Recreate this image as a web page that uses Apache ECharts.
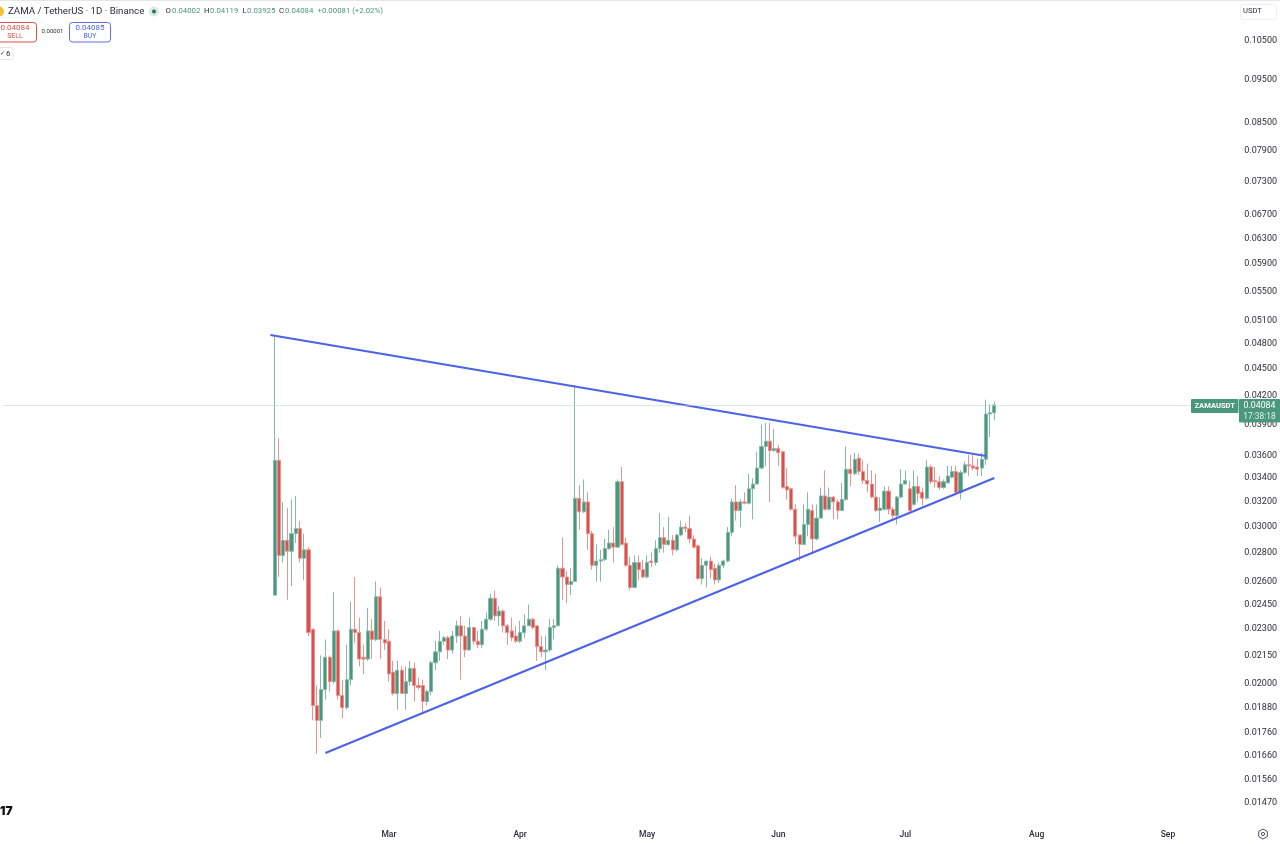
<!DOCTYPE html>
<html><head><meta charset="utf-8">
<style>html,body{margin:0;padding:0;background:#fff}#c{width:1280px;height:844px}</style>
<script src="https://cdn.jsdelivr.net/npm/echarts@6/dist/echarts.min.js"></script>
</head><body><div id="c"></div>
<script>
const opens=[.0250,.0354,.0277,.0288,.0280,.0293,.0297,.0275,.0281,.0229,.0188,.0181,.0196,.0213,.0200,.0228,.0193,.0187,.0201,.0229,.0227,.0213,.0212,.0228,.0223,.0249,.0223,.0222,.0205,.0194,.0206,.0194,.0200,.0207,.0198,.0198,.0190,.0195,.0210,.0216,.0222,.0224,.0217,.0225,.0231,.0225,.0217,.0230,.0222,.0220,.0229,.0235,.0248,.0237,.0240,.0231,.0228,.0225,.0222,.0227,.0231,.0235,.0231,.0219,.0216,.0217,.0230,.0231,.0268,.0262,.0257,.0259,.0321,.0310,.0318,.0293,.0270,.0273,.0274,.0282,.0286,.0283,.0335,.0286,.0270,.0255,.0272,.0267,.0262,.0273,.0272,.0282,.0290,.0285,.0288,.0281,.0292,.0298,.0297,.0289,.0284,.0261,.0270,.0273,.0268,.0260,.0270,.0273,.0294,.0318,.0311,.0318,.0317,.0329,.0333,.0347,.0367,.0372,.0363,.0365,.0362,.0331,.0329,.0312,.0292,.0285,.0300,.0311,.0289,.0305,.0323,.0312,.0322,.0318,.0311,.0320,.0346,.0342,.0356,.0344,.0336,.0333,.0322,.0311,.0312,.0327,.0312,.0307,.0322,.0333,.0329,.0316,.0331,.0326,.0321,.0348,.0336,.0335,.0330,.0334,.0339,.0344,.0326,.0343,.0350,.0349,.0348,.0347,.0355,.0399,.04002];
const closes=[.0354,.0277,.0288,.0280,.0293,.0297,.0275,.0281,.0227,.0188,.0181,.0196,.0213,.0200,.0228,.0193,.0187,.0201,.0229,.0227,.0212,.0212,.0228,.0223,.0249,.0223,.0221,.0204,.0194,.0206,.0194,.0200,.0207,.0198,.0197,.0190,.0195,.0210,.0216,.0222,.0224,.0217,.0225,.0231,.0225,.0217,.0230,.0222,.0220,.0229,.0235,.0248,.0237,.0240,.0231,.0227,.0224,.0222,.0227,.0231,.0235,.0230,.0219,.0216,.0217,.0230,.0231,.0268,.0262,.0257,.0259,.0321,.0310,.0318,.0293,.0270,.0273,.0274,.0282,.0286,.0283,.0335,.0285,.0270,.0255,.0272,.0267,.0262,.0272,.0272,.0282,.0290,.0285,.0288,.0281,.0292,.0298,.0297,.0289,.0283,.0261,.0270,.0273,.0267,.0260,.0270,.0273,.0294,.0318,.0311,.0318,.0317,.0329,.0333,.0347,.0367,.0372,.0363,.0365,.0361,.0330,.0328,.0312,.0291,.0285,.0300,.0312,.0289,.0305,.0323,.0312,.0322,.0318,.0311,.0320,.0346,.0342,.0355,.0344,.0336,.0333,.0322,.0311,.0313,.0327,.0312,.0307,.0322,.0333,.0336,.0311,.0331,.0325,.0321,.0348,.0335,.0335,.0330,.0335,.0340,.0344,.0326,.0343,.0350,.0349,.0347,.0346,.0355,.0399,.04003,.04084];
const lows=[.0250,.0262,.0272,.0247,.0256,.0286,.0272,.0260,.0225,.0181,.0166,.0173,.0191,.0195,.0199,.0191,.0182,.0186,.0198,.0221,.0208,.0204,.0211,.0212,.0222,.0212,.0217,.0200,.0193,.0186,.0194,.0186,.0198,.0190,.0196,.0185,.0188,.0193,.0206,.0211,.0220,.0212,.0215,.0221,.0201,.0213,.0217,.0220,.0218,.0218,.0228,.0234,.0234,.0231,.0227,.0220,.0222,.0221,.0221,.0224,.0231,.0229,.0211,.0213,.0206,.0216,.0223,.0231,.0247,.0245,.0250,.0259,.0296,.0309,.0281,.0267,.0259,.0259,.0273,.0281,.0272,.0283,.0284,.0269,.0253,.0255,.0260,.0261,.0261,.0269,.0270,.0279,.0279,.0284,.0277,.0280,.0291,.0294,.0286,.0282,.0260,.0257,.0255,.0261,.0257,.0258,.0268,.0272,.0291,.0303,.0298,.0316,.0316,.0304,.0333,.0346,.0349,.0318,.0362,.0349,.0329,.0320,.0311,.0285,.0273,.0285,.0291,.0279,.0288,.0305,.0311,.0311,.0304,.0304,.0311,.0319,.0331,.0341,.0341,.0333,.0326,.0321,.0310,.0302,.0311,.0308,.0304,.0300,.0321,.0333,.0310,.0315,.0318,.0315,.0320,.0333,.0330,.0328,.0329,.0334,.0338,.0326,.0320,.0342,.0340,.0345,.0340,.0340,.0350,.0376,.03925];
const highs=[.0489,.0375,.0318,.0313,.0320,.0323,.0303,.0293,.0283,.0229,.0198,.0214,.0223,.0214,.0252,.0229,.0201,.0220,.0246,.0262,.0236,.0220,.0242,.0235,.0259,.0255,.0234,.0229,.0211,.0211,.0208,.0208,.0211,.0210,.0202,.0201,.0196,.0211,.0222,.0228,.0225,.0225,.0228,.0234,.0237,.0231,.0236,.0230,.0228,.0234,.0239,.0251,.0253,.0243,.0241,.0232,.0236,.0231,.0234,.0238,.0244,.0236,.0231,.0225,.0225,.0235,.0235,.0270,.0290,.0266,.0268,.0430,.0332,.0337,.0326,.0295,.0285,.0281,.0289,.0296,.0298,.0337,.0348,.0290,.0276,.0277,.0277,.0274,.0277,.0279,.0288,.0309,.0298,.0306,.0292,.0293,.0303,.0301,.0307,.0292,.0285,.0275,.0273,.0276,.0271,.0272,.0274,.0298,.0321,.0332,.0320,.0326,.0342,.0338,.0362,.0388,.0390,.0390,.0384,.0368,.0363,.0347,.0330,.0316,.0292,.0316,.0326,.0316,.0316,.0330,.0345,.0330,.0323,.0320,.0334,.0367,.0359,.0361,.0360,.0354,.0351,.0345,.0342,.0322,.0331,.0331,.0314,.0323,.0346,.0345,.0336,.0345,.0340,.0330,.0354,.0350,.0348,.0340,.0337,.0349,.0349,.0349,.0345,.0353,.0359,.0359,.0356,.0361,.0414,.0409,.04119];
const priceTicks=[.105,.095,.085,.079,.073,.067,.063,.059,.055,.051,.048,.045,.042,.039,.036,.034,.032,.030,.028,.026,.0245,.023,.0215,.020,.0188,.0176,.0166,.0156,.0147];
const lastPrice=.04084;
const firstDay=Date.UTC(2025,10,30), firstCandle=Date.UTC(2026,1,2), dayMs=864e5, slots=292;
const monthNames=['Jan','Feb','Mar','Apr','May','Jun','Jul','Aug','Sep','Oct','Nov','Dec'];
const categories=Array.from({length:slots},(_,i)=>new Date(firstDay+i*dayMs).toISOString().slice(0,10));
const startIdx=categories.indexOf(new Date(firstCandle).toISOString().slice(0,10));
const upperLine=[['2026-02-01',.04892],['2026-07-20',.03580]];
const lowerLine=[['2026-02-14',.01664],['2026-07-22',.03382]];
const candles=categories.map((_,i)=>{const k=i-startIdx;return k>=0&&k<opens.length?[opens[k],closes[k],lows[k],highs[k]]:'-';});
const GREEN='#4a977e',RED='#d9514d',GREEN_W='#86baa8',RED_W='#e89491',BLUE='#4c63e6',DARK='#2a2e39',FONT='Roboto, sans-serif';
const txt=(x,y,text,fill,size,extra)=>({type:'text',x,y,z:20,style:Object.assign({text,fill,font:`${size}px ${FONT}`,textVerticalAlign:'middle',textAlign:'left'},extra||{})});
const box=(x,y,w,h,stroke,fill,r)=>({type:'rect',z:19,shape:{x,y,width:w,height:h,r:r||0},style:{stroke:stroke||null,fill:fill||null,lineWidth:1}});
const mid={textAlign:'center'};
const graphic=[
 {type:'line',z:19,shape:{x1:0,y1:0.5,x2:1280,y2:0.5},style:{stroke:'#e6e6e6',lineWidth:1}},
 {type:'circle',z:19,shape:{cx:-1,cy:11.5,r:5},style:{fill:'#f2c230'}},
 txt(8,11.5,'ZAMA / TetherUS · 1D · Binance',DARK,9.7),
 {type:'circle',z:19,shape:{cx:154,cy:11.5,r:5},style:{fill:'#d8ece6'}},
 {type:'circle',z:19,shape:{cx:154,cy:11.5,r:2},style:{fill:'#2e6b5a'}},
 txt(165.5,11.5,'O',DARK,7.8),txt(172,11.5,'0.04002',GREEN,7.8),
 txt(204,11.5,'H',DARK,7.8),txt(210,11.5,'0.04119',GREEN,7.8),
 txt(242.5,11.5,'L',DARK,7.8),txt(247,11.5,'0.03925',GREEN,7.8),
 txt(279,11.5,'C',DARK,7.8),txt(285,11.5,'0.04084',GREEN,7.8),
 txt(317.5,11.5,'+0.00081 (+2.02%)',GREEN,7.8),
 box(-3,22.5,39.5,19.5,RED,'#fff',3),
 txt(15,27.5,'0.04084',RED,8,mid),txt(15,36.2,'SELL',RED,7,mid),
 txt(52.5,31,'0.00001',DARK,6,mid),
 box(69.5,22.5,41,19.5,'#5b70e2','#fff',3),
 txt(90,27.5,'0.04085','#4c63e6',8,mid),txt(90,36.2,'BUY','#4c63e6',7,mid),
 box(-3,47.5,16,12,'#e6e6e6','#fff',2),
 txt(0,53.5,'✓',DARK,5.5),txt(6,53.5,'6',DARK,8),
 {type:'text',x:0,y:811,z:20,style:{text:'17',fill:'#111',font:`900 12px Inter, ${FONT}`,textVerticalAlign:'middle'}},
 box(1240.5,4.5,36,15,'#f0f0f0','#fff',2),
 txt(1243,11.5,'USDT',DARK,7.6),
 box(1191,399,47.5,14,null,GREEN,1),
 txt(1214.7,406.3,'ZAMAUSDT','#fff',7.6,{textAlign:'center',font:`bold 7.6px ${FONT}`}),
 box(1239,399,41,23.5,null,GREEN,1),
 txt(1259.5,406,'0.04084','#fff',8.8,mid),txt(1259.5,416.5,'17:38:18','#dff0ea',8.4,mid),
 {type:'polygon',z:19,shape:{points:[[1263,829],[1267.3,831.5],[1267.3,836.5],[1263,839],[1258.7,836.5],[1258.7,831.5]]},style:{fill:'#fff',stroke:'#4a4f5c',lineWidth:1}},
 {type:'circle',z:20,shape:{cx:1263,cy:834,r:1.6},style:{fill:'#fff',stroke:'#4a4f5c',lineWidth:1}}
];
const chart=echarts.init(document.getElementById('c'),null,{renderer:'canvas'});
chart.setOption({
 animation:false,backgroundColor:'#fff',
 grid:{left:1.5,top:0,width:1237,height:825,containLabel:false},
 xAxis:{type:'category',data:categories,boundaryGap:true,axisLine:{show:false},axisTick:{show:false},splitLine:{show:false},
  axisLabel:{interval:(i,v)=>v.endsWith('-01')&&v>='2026-03',formatter:v=>monthNames[+v.slice(5,7)-1],color:DARK,fontSize:8.5,fontWeight:500,fontFamily:FONT,margin:5,hideOverlap:false}},
 yAxis:{type:'log',logBase:10,position:'right',min:.013817,max:.11611,axisLine:{show:false},axisTick:{show:false},splitLine:{show:false},
  axisLabel:{customValues:priceTicks,showMinLabel:true,showMaxLabel:true,hideOverlap:false,formatter:v=>(+v).toFixed(5),color:DARK,fontSize:9,fontFamily:FONT,margin:6.5,align:'left',verticalAlign:'top',lineHeight:3.5}},
 series:[{type:'candlestick',data:candles,barWidth:3.6,
  itemStyle:{color:GREEN,color0:RED,borderColor:GREEN_W,borderColor0:RED_W,borderWidth:1},
  markLine:{silent:true,symbol:'none',animation:false,label:{show:false},data:[
   [{coord:upperLine[0],lineStyle:{color:BLUE,width:2.2,type:'solid'}},{coord:upperLine[1]}],
   [{coord:lowerLine[0],lineStyle:{color:BLUE,width:2.2,type:'solid'}},{coord:lowerLine[1]}],
   [{coord:[categories[0],lastPrice],lineStyle:{color:'#b5d5ca',width:1,type:'dotted'}},{coord:[categories[slots-1],lastPrice]}]
  ]}}],
 graphic
});
</script></body></html>
